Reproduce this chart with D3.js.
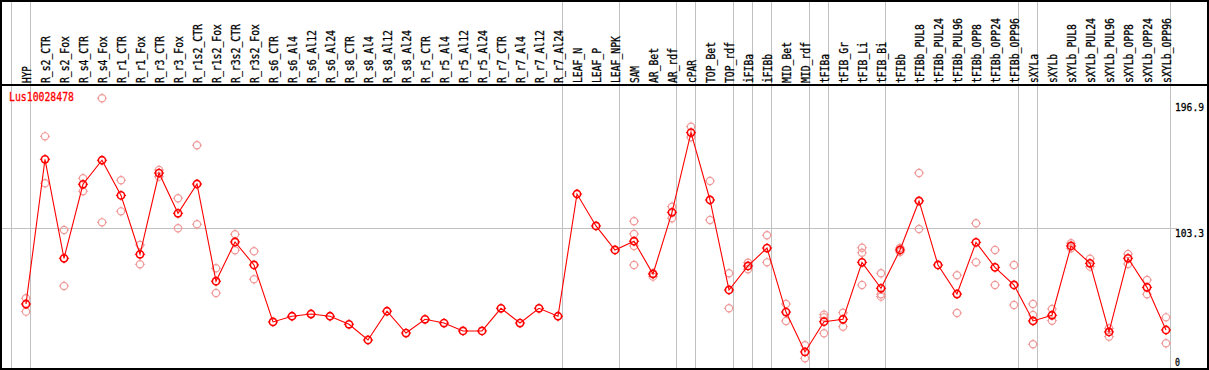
<!DOCTYPE html>
<html>
<head>
<meta charset="utf-8">
<script src="https://cdn.jsdelivr.net/npm/d3@7"></script>
<style>
  body { margin: 0; background: #fff; }
  svg { display: block; }
  text { font-family: "DejaVu Sans Mono", monospace; font-size: 12px; }
</style>
</head>
<body>
<svg id="chart" width="1209" height="370"></svg>
<script>
const title = "Lus10028478";

const samples = [
  "HYP", "R_s2_CTR", "R_s2_Fox", "R_s4_CTR", "R_s4_Fox", "R_r1_CTR", "R_r1_Fox",
  "R_r3_CTR", "R_r3_Fox", "R_r1s2_CTR", "R_r1s2_Fox", "R_r3s2_CTR", "R_r3s2_Fox",
  "R_s6_CTR", "R_s6_Al4", "R_s6_Al12", "R_s6_Al24", "R_s8_CTR", "R_s8_Al4",
  "R_s8_Al12", "R_s8_Al24", "R_r5_CTR", "R_r5_Al4", "R_r5_Al12", "R_r5_Al24",
  "R_r7_CTR", "R_r7_Al4", "R_r7_Al12", "R_r7_Al24", "LEAF_N", "LEAF_P", "LEAF_NPK",
  "SAM", "AR_Bet", "AR_rdf", "cPAR", "TOP_Bet", "TOP_rdf", "iFIBa", "iFIBb",
  "MID_Bet", "MID_rdf", "tFIBa", "tFIB_Gr", "tFIB_Li", "tFIB_Bi", "tFIBb",
  "tFIBb_PUL8", "tFIBb_PUL24", "tFIBb_PUL96", "tFIBb_OPP8", "tFIBb_OPP24", "tFIBb_OPP96",
  "sXYLa", "sXYLb", "sXYLb_PUL8", "sXYLb_PUL24", "sXYLb_PUL96", "sXYLb_OPP8",
  "sXYLb_OPP24", "sXYLb_OPP96"
];

// mean value per sample
const means = [
  48.8, 153, 81.7, 135, 152.3, 127, 84.6, 143.1, 114.1, 135.2, 65.2, 93.5, 76.9,
  35.9, 40, 41.6, 40, 34.2, 22.9, 43.6, 27.9, 37.8, 35.1, 29.4, 29.4,
  45.7, 35.1, 45.7, 40, 128, 105, 87.7,
  94, 70.4, 114.8, 172.2, 123.7, 58.9, 76.2, 89.1,
  43, 14.3, 36.1, 37.8, 78.8, 60.1, 87.7,
  123, 76.9, 56, 93.2, 75.2, 62.5,
  36.6, 40.7, 90.6, 78.1, 28.7, 81.7, 60.8, 30.1
];

// replicate values per sample
const replicates = [
  [52.9, 43.3], [169.5, 135.7], [102.1, 61.8], [139.3, 130], [196.9, 107.6],
  [137.9, 115.5], [91.3, 77.4], [145.3, 140.5], [124.9, 103.3], [163.1, 106.2],
  [74.5, 56.7], [99, 87.5], [86.8, 66.6],
  [], [], [], [], [], [], [], [], [], [], [], [], [], [], [], [],
  [], [], [],
  [108.4, 99.2, 90.6, 76.9], [68.5, 71], [118.9, 110.5], [176.5, 168.8],
  [137.4, 109.3], [70.9, 45.7], [78.5, 73.8], [98.3, 78.8],
  [48.8, 36.6], [19.1, 9.7], [41.1, 39.2, 27.7], [42.5, 32.5],
  [89.3, 85.7, 62.5], [70.9, 55.8, 54.1], [89.1, 86.2],
  [143.1, 102.8], [], [69.5, 42.3], [106.9, 78.8], [87.7, 62.5], [76.9, 48.1],
  [48.8, 40.9, 19.8], [45.2, 36.8], [92.5, 88.9], [81.4, 75.7], [31.3, 25.3],
  [84.8, 77.6], [66.1, 55.8], [39.2, 20.5]
];

// first sample of each group (gray separators)
const groupStarts = [
  "HYP", "R_s2_CTR", "LEAF_N", "SAM", "cPAR", "TOP_Bet", "iFIBa", "iFIBb",
  "MID_Bet", "tFIBa", "tFIB_Gr", "tFIBb", "sXYLa", "sXYLb"
];

const yTicks = [0, 103.3, 196.9];

const headerBottom = 85, plotBottom = 369, right = 1208;

const svg = d3.select("#chart");

const x = d3.scaleBand()
  .domain(samples)
  .range([10.5, 10.5 + 19 * samples.length])
  .paddingInner(0)
  .paddingOuter(0);
const px = (s) => x(s) + 15.5;

const y = d3.scaleLinear()
  .domain([0, 196.9])
  .range([371.8, 98.3]);

const grid = svg.append("g")
  .attr("stroke", "#c0c0c0")
  .attr("shape-rendering", "crispEdges");

// horizontal mid line
grid.append("line")
  .attr("x1", 1).attr("x2", 1177)
  .attr("y1", Math.round(y(103.3)) + 0.5).attr("y2", Math.round(y(103.3)) + 0.5);

// group separators
const sepX = groupStarts.map((s) => x(s)).concat([x.range()[1]]);
grid.selectAll("line.sep")
  .data(sepX)
  .join("line")
  .attr("class", "sep")
  .attr("x1", (d) => Math.round(d) + 0.5)
  .attr("x2", (d) => Math.round(d) + 0.5)
  .attr("y1", 0)
  .attr("y2", plotBottom);

// header labels
svg.append("g")
  .selectAll("text")
  .data(samples)
  .join("text")
  .attr("transform", (d) => `translate(${px(d) + 4.5},${headerBottom - 2}) rotate(-90)`)
  .attr("textLength", (d) => d.length * 6 - 1)
  .attr("lengthAdjust", "spacingAndGlyphs")
  .attr("fill", "#000")
  .attr("stroke", "#000")
  .attr("stroke-width", 0.3)
  .text((d) => d);

// replicate points
const repData = [];
samples.forEach((s, i) => {
  replicates[i].forEach((v) => repData.push({ s, v }));
});

function marker(g, color, width) {
  const r = 3.6;
  g.append("circle")
    .attr("r", r)
    .attr("fill", "none")
    .attr("stroke", color)
    .attr("stroke-width", width);
  g.append("path")
    .attr("d", `M0,${-r - 1.5}V${-r + 0.5}M0,${r - 0.5}V${r + 1.5}M${-r - 1.5},0H${-r + 0.5}M${r - 0.5},0H${r + 1.5}`)
    .attr("stroke", color)
    .attr("stroke-width", 1);
}

svg.append("g")
  .selectAll("g")
  .data(repData)
  .join("g")
  .attr("transform", (d) => `translate(${px(d.s)},${y(d.v)})`)
  .each(function () { marker(d3.select(this), "#f09a9a", 1.2); });

// mean line
const meanData = samples.map((s, i) => ({ s, v: means[i] }));
svg.append("path")
  .datum(meanData)
  .attr("fill", "none")
  .attr("stroke", "#ff0000")
  .attr("stroke-width", 1.1)
  .attr("d", d3.line().x((d) => px(d.s)).y((d) => y(d.v)));

svg.append("g")
  .selectAll("g")
  .data(meanData)
  .join("g")
  .attr("transform", (d) => `translate(${px(d.s)},${y(d.v)})`)
  .each(function () { marker(d3.select(this), "#ff0000", 1.6); });

// title
svg.append("text")
  .attr("x", 9).attr("y", 101)
  .attr("fill", "#ff0000")
  .attr("stroke", "#ff0000")
  .attr("stroke-width", 0.3)
  .attr("textLength", title.length * 6 - 1)
  .attr("lengthAdjust", "spacingAndGlyphs")
  .text(title);

// y labels
svg.append("g")
  .selectAll("text")
  .data(yTicks)
  .join("text")
  .attr("x", 1175)
  .attr("y", (d) => Math.min(Math.max(y(d) + 8.5, headerBottom + 26), plotBottom - 3))
  .style("font-size", "10.5px")
  .attr("textLength", (d) => String(d).length * 6 - 1)
  .attr("lengthAdjust", "spacingAndGlyphs")
  .attr("fill", "#000")
  .attr("stroke", "#000")
  .attr("stroke-width", 0.3)
  .text((d) => d);

// frame
const frame = svg.append("g")
  .attr("stroke", "#000")
  .attr("stroke-width", 2)
  .attr("shape-rendering", "crispEdges")
  .attr("fill", "none");
frame.append("rect").attr("x", 1).attr("y", 1).attr("width", right - 1).attr("height", plotBottom - 1);
frame.append("line").attr("x1", 0).attr("x2", right).attr("y1", headerBottom).attr("y2", headerBottom);
</script>
</body>
</html>
